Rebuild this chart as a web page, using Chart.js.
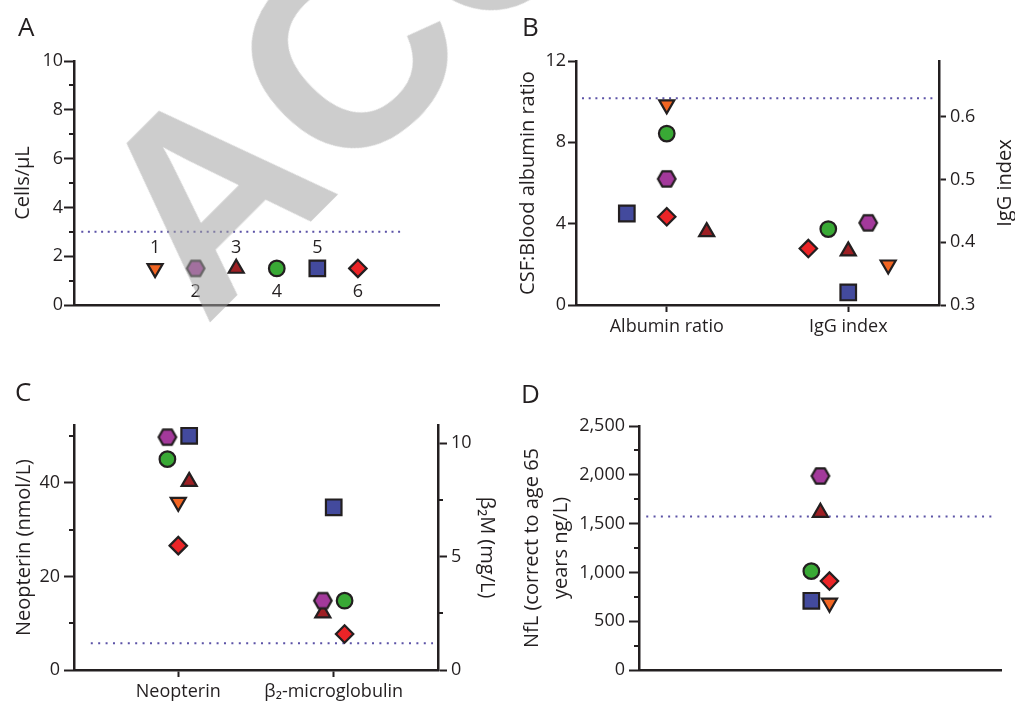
<!DOCTYPE html>
<html>
<head>
<meta charset="utf-8">
<script src="https://cdn.jsdelivr.net/npm/chart.js@4.4.1/dist/chart.umd.min.js"></script>
<style>
  html, body { margin: 0; padding: 0; background: #fff; }
  #fig { position: relative; width: 1015px; height: 706px; overflow: hidden; font-family: 'Open Sans', sans-serif; color: #231f20; }
  #fig canvas { position: absolute; }
  .tag { position: absolute; font-size: 26px; line-height: 26px; }
  #wm {
    position: absolute; left: 44px; top: 166px;
    font: bold 270px 'Liberation Sans', Arial, sans-serif; line-height: 1;
    color: rgba(160, 160, 160, 0.53);
    transform-origin: 0 0; transform: rotate(-45deg);
    white-space: nowrap; pointer-events: none;
  }
</style>
</head>
<body>
<div id="fig">
  <canvas id="chartA" width="500" height="350" style="left:0;top:0"></canvas>
  <canvas id="chartB" width="515" height="350" style="left:500px;top:0"></canvas>
  <canvas id="chartC" width="500" height="356" style="left:0;top:350px"></canvas>
  <canvas id="chartD" width="515" height="356" style="left:500px;top:350px"></canvas>
  <div class="tag" style="left:18px;top:13px">A</div>
  <div class="tag" style="left:522px;top:13px">B</div>
  <div class="tag" style="left:15px;top:378px">C</div>
  <div class="tag" style="left:521px;top:380px">D</div>
  <div id="wm">ACCEPTED</div>
</div>
<script>
// ---- data (patients 1-6) ----
const patients = ['1', '2', '3', '4', '5', '6'];

// A: CSF cells
const cellCounts = [1.5, 1.5, 1.5, 1.5, 1.5, 1.5];
const cellTicks = [0, 2, 4, 6, 8, 10];
const cellMinorTicks = [1, 3, 5, 7, 9];
const cellCutoff = 3;

// B: albumin ratio / IgG index
const barrierLabels = ['Albumin ratio', 'IgG index'];
const albuminRatio = [9.85, 6.2, 3.6, 8.43, 4.5, 4.34];
const iggIndex = [0.364, 0.431, 0.386, 0.421, 0.32, 0.39];
const albuminTicks = [0, 4, 8, 12];
const iggTicks = [0.3, 0.4, 0.5, 0.6];
const albuminCutoff = 10.17;

// C: neopterin / beta2-microglobulin
const markerLabels = ['Neopterin', 'β₂-microglobulin'];
const neopterin = [35.9, 49.8, 40.3, 45.1, 50.1, 26.6];
const b2m = [null, 3.06, 2.51, 3.06, 7.18, 1.59];
const neopterinTicks = [0, 20, 40];
const neopterinMinorTicks = [10, 30, 50];
const b2mTicks = [0, 5, 10];
const b2mMinorTicks = [2.5, 7.5];
const neopterinCutoff = 5.7;

// D: NfL
const nfl = [686, 1988, 1614, 1013, 709, 911];
const nflTicks = [0, 500, 1000, 1500, 2000, 2500];
const nflMinorTicks = [250, 750, 1250, 1750, 2250];
const nflCutoff = 1573;

// horizontal spread of the points inside a category (layout only)
const albuminJitter = [0, 0, 0.22, 0, -0.22, 0];
const iggJitter = [0.22, 0.11, 0, -0.11, 0, -0.22];
const neopterinJitter = [0, -0.07, 0.07, -0.07, 0.07, 0];
const b2mJitter = [0, -0.07, -0.07, 0.07, 0, 0.07];
const nflJitter = [0.05, 0, 0, -0.05, -0.05, 0.05];

// ---- styles ----
const INK = '#231f20';
const DOT = '#5b52a6';
const patientColors = ['#f26522', '#a3399b', '#9e1f24', '#39a935', '#434a9d', '#ec2427'];

Chart.defaults.font.family = "'Open Sans', sans-serif";
Chart.defaults.color = INK;

function hexagonImage(fill) {
    const c = document.createElement('canvas');
    c.width = 24;
    c.height = 22;
    const g = c.getContext('2d');
    g.beginPath();
    for (let k = 0; k < 6; k++) {
        const a = Math.PI / 3 * k;
        const px = 12 + 8.8 * Math.cos(a);
        const py = 11 + 8.8 * Math.sin(a);
        if (k === 0) g.moveTo(px, py); else g.lineTo(px, py);
    }
    g.closePath();
    g.fillStyle = fill;
    g.fill();
    g.lineWidth = 2.2;
    g.strokeStyle = INK;
    g.stroke();
    return c;
}

const markers = [
    { style: 'triangle', rotation: 180, radius: 8.7 },
    { style: hexagonImage(patientColors[1]), rotation: 0, radius: 9 },
    { style: 'triangle', rotation: 0, radius: 8.7 },
    { style: 'circle', rotation: 0, radius: 7.8 },
    { style: 'rect', rotation: 0, radius: 11 },
    { style: 'rectRot', rotation: 0, radius: 8.7 }
];

function patientSet(i, points, yAxisID) {
    const m = markers[i];
    return {
        yAxisID: yAxisID || 'y',
        data: points,
        pointStyle: m.style,
        pointRotation: m.rotation,
        pointRadius: m.radius,
        pointBackgroundColor: patientColors[i],
        pointBorderColor: INK,
        pointBorderWidth: 2.2,
        showLine: false,
        order: i === 1 ? 1 : 2
    };
}

function cutoffSet(value, x0, x1, gap, yAxisID) {
    return {
        yAxisID: yAxisID || 'y',
        data: [{ x: x0, y: value }, { x: x1, y: value }],
        showLine: true,
        borderColor: DOT,
        borderWidth: 2,
        borderDash: [2, gap],
        pointRadius: 0,
        order: 10
    };
}

function valueAxis(o) {
    return {
        type: 'linear',
        position: o.position || 'left',
        min: o.min,
        max: o.max,
        afterFit(s) { s.width = o.width; },
        afterBuildTicks(s) { s.ticks = o.ticks.map(v => ({ value: v })); },
        border: { display: true, color: INK, width: 2.5 },
        grid: { display: true, drawOnChartArea: false, drawTicks: true, tickLength: o.tickLength || 10, tickColor: INK, tickWidth: 2 },
        ticks: { color: INK, font: { size: 18 }, padding: o.pad || 2, autoSkip: false },
        title: o.title ? {
            display: true, text: o.title, color: INK,
            font: { size: 20, lineHeight: o.titleLineHeight || 1.2 },
            padding: { top: o.titlePad || 0, bottom: 0 }
        } : { display: false }
    };
}

function categoryAxis(o) {
    const axis = {
        type: 'linear',
        min: o.min,
        max: o.max,
        afterFit(s) { s.height = o.height; },
        border: { display: true, color: INK, width: 2.5 },
        grid: { display: !!o.labels, drawOnChartArea: false, tickLength: 7, tickColor: INK, tickWidth: 2 },
        ticks: { display: !!o.labels, color: INK, font: { size: 18 }, padding: 4, maxRotation: 0, autoSkip: false }
    };
    if (o.labels) {
        axis.afterBuildTicks = s => { s.ticks = o.labels.map((_, i) => ({ value: i })); };
        axis.ticks.callback = v => o.labels[v];
    }
    return axis;
}

function minorTicksPlugin(spec) {
    return {
        id: 'minorTicks',
        afterDraw(chart) {
            const { ctx, chartArea } = chart;
            ctx.save();
            ctx.strokeStyle = INK;
            ctx.lineWidth = 2;
            Object.keys(spec).forEach(id => {
                const scale = chart.scales[id];
                const left = scale.position === 'left';
                const x0 = left ? chartArea.left : chartArea.right;
                spec[id].forEach(v => {
                    const y = Math.round(scale.getPixelForValue(v));
                    ctx.beginPath();
                    ctx.moveTo(x0, y);
                    ctx.lineTo(x0 + (left ? -5 : 5), y);
                    ctx.stroke();
                });
            });
            ctx.restore();
        }
    };
}

// numbers above / below the points of panel A
const pointNumbers = {
    id: 'pointNumbers',
    afterDatasetsDraw(chart) {
        const ctx = chart.ctx;
        ctx.save();
        ctx.font = "18px 'Open Sans', sans-serif";
        ctx.fillStyle = INK;
        ctx.textAlign = 'center';
        ctx.textBaseline = 'middle';
        patients.forEach((label, i) => {
            const pt = chart.getDatasetMeta(i).data[0];
            ctx.fillText(label, pt.x, pt.y + (i % 2 === 0 ? -21 : 23));
        });
        ctx.restore();
    }
};

// right-hand title reading bottom to top (panel B)
function sideTitlePlugin(text, offset) {
    return {
        id: 'sideTitle',
        afterDraw(chart) {
            const { ctx, chartArea } = chart;
            ctx.save();
            ctx.translate(chartArea.right + offset, (chartArea.top + chartArea.bottom) / 2);
            ctx.rotate(-Math.PI / 2);
            ctx.font = "20px 'Open Sans', sans-serif";
            ctx.fillStyle = INK;
            ctx.textAlign = 'center';
            ctx.textBaseline = 'middle';
            ctx.fillText(text, 0, 0);
            ctx.restore();
        }
    };
}

function makeChart(id, datasets, scales, padding, plugins) {
    return new Chart(document.getElementById(id), {
        type: 'scatter',
        data: { datasets },
        options: {
            responsive: false,
            animation: false,
            events: [],
            layout: { padding },
            plugins: { legend: { display: false }, tooltip: { enabled: false } },
            scales
        },
        plugins: plugins || []
    });
}

// ---- panel A ----
makeChart('chartA',
    [...patients.map((p, i) => patientSet(i, [{ x: i + 1, y: cellCounts[i] }])),
     cutoffSet(cellCutoff, -0.82, 7.15, 4.6)],
    {
        x: categoryAxis({ min: -1, max: 8, height: 45 }),
        y: valueAxis({ min: 0, max: 10, ticks: cellTicks, width: 74, tickLength: 10, pad: 1, title: 'Cells/μL', titlePad: 11 })
    },
    { left: 0, right: 61, top: 61, bottom: 0 },
    [minorTicksPlugin({ y: cellMinorTicks }), pointNumbers]
);

// ---- panel B ----
makeChart('chartB',
    [...patients.map((p, i) => patientSet(i, [{ x: 0 + albuminJitter[i], y: albuminRatio[i] }], 'y')),
     ...patients.map((p, i) => patientSet(i, [{ x: 1 + iggJitter[i], y: iggIndex[i] }], 'y1')),
     cutoffSet(albuminCutoff, -0.467, 1.467, 4.7)],
    {
        x: categoryAxis({ min: -0.5, max: 1.5, height: 45, labels: barrierLabels }),
        y: valueAxis({ min: 0, max: 12, ticks: albuminTicks, width: 76, tickLength: 8, pad: 2, title: 'CSF:Blood albumin ratio', titlePad: 16 }),
        y1: valueAxis({ position: 'right', min: 0.3, max: 0.689, ticks: iggTicks, width: 76, tickLength: 7, pad: 4 })
    },
    { left: 0, right: 0, top: 61, bottom: 0 },
    [sideTitlePlugin('IgG index', 66)]
);

// ---- panel C ----
makeChart('chartC',
    [...patients.map((p, i) => patientSet(i, [{ x: 0 + neopterinJitter[i], y: neopterin[i] }], 'y')),
     ...patients.map((p, i) => patientSet(i, [{ x: 1 + b2mJitter[i], y: b2m[i] }], 'y1')),
     cutoffSet(neopterinCutoff, -0.563, 1.639, 5.4)],
    {
        x: categoryAxis({ min: -0.671, max: 1.671, height: 36, labels: markerLabels }),
        y: valueAxis({ min: 0, max: 52.4, ticks: neopterinTicks, width: 74, tickLength: 10, pad: 4, title: 'Neopterin (nmol/L)', titlePad: 12 }),
        y1: valueAxis({ position: 'right', min: 0, max: 10.81, ticks: b2mTicks, width: 62, tickLength: 9, pad: 4, title: 'β₂M (mg/L)', titlePad: 1 })
    },
    { left: 0, right: 0, top: 75, bottom: 0 },
    [minorTicksPlugin({ y: neopterinMinorTicks, y1: b2mMinorTicks })]
);

// ---- panel D ----
makeChart('chartD',
    [...patients.map((p, i) => patientSet(i, [{ x: 1 + nflJitter[i], y: nfl[i] }])),
     cutoffSet(nflCutoff, 0.04, 1.965, 5.3)],
    {
        x: categoryAxis({ min: 0, max: 2, height: 36 }),
        y: valueAxis({ min: 0, max: 2500, ticks: nflTicks, width: 139, tickLength: 10, pad: 4,
            title: ['NfL (correct to age 65', 'years ng/L)'], titlePad: 18, titleLineHeight: 1.45 })
    },
    { left: 0, right: 11, top: 76, bottom: 0 },
    [minorTicksPlugin({ y: nflMinorTicks })]
);
</script>
</body>
</html>
